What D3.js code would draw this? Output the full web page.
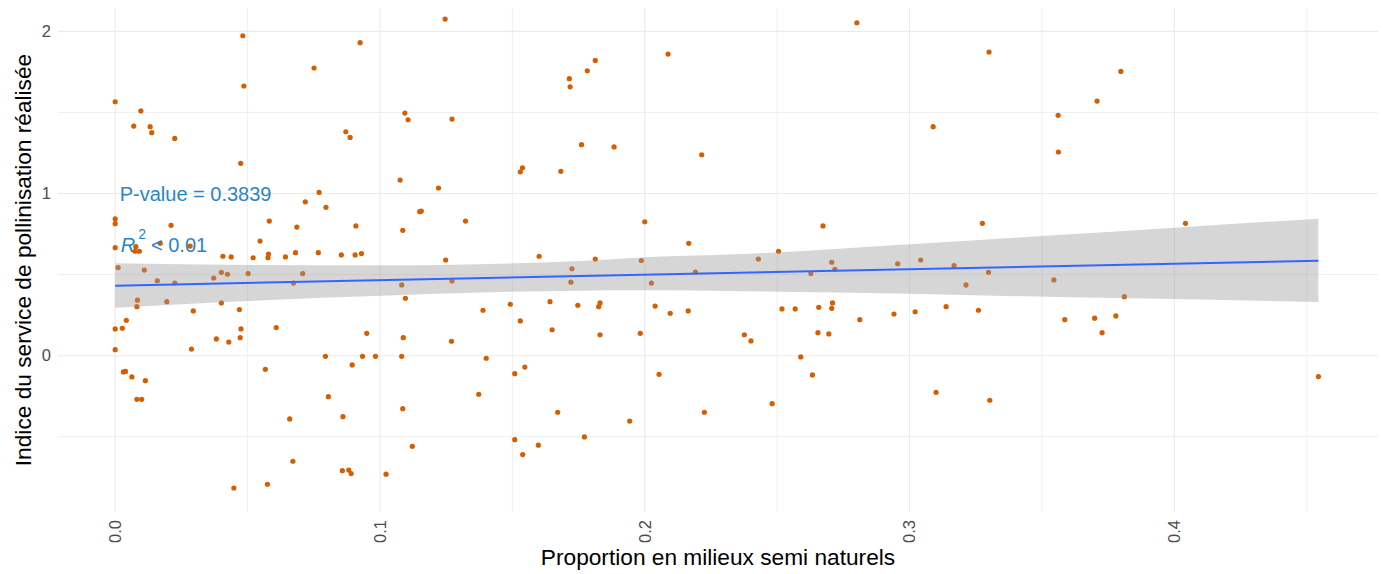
<!DOCTYPE html>
<html lang="fr">
<head>
<meta charset="utf-8">
<script src="https://cdn.jsdelivr.net/npm/d3@7"></script>
<style>
  html, body { margin: 0; padding: 0; background: #ffffff; }
  svg { display: block; font-family: "Liberation Sans", Arial, sans-serif; }
</style>
</head>
<body>
<svg id="chart" width="1383" height="574"></svg>
<script>
// Proportion of semi-natural habitat (x) and realised pollination service index (y), one entry per site
const propSemiNaturel = [
  0.0482, 0.0486, 0.0000, 0.0097, 0.0070, 0.0132, 0.0138, 0.0225, 0.0474, 0.0000,
  0.0000, 0.0211, 0.0000, 0.0078, 0.0170, 0.0283, 0.0075, 0.0091, 0.0407, 0.0438,
  0.0011, 0.0110, 0.0159, 0.0225, 0.0372, 0.0401, 0.0424, 0.0502, 0.0084, 0.0082,
  0.0195, 0.0401, 0.0295, 0.0469, 0.0042, 0.0000, 0.0027, 0.0475, 0.0382, 0.0429,
  0.0472, 0.0000, 0.0288, 0.0031, 0.0039, 0.0063, 0.0114, 0.0082, 0.0100, 0.0448,
  0.0925, 0.0751, 0.0871, 0.0887, 0.1094, 0.1106, 0.1076, 0.1086, 0.0770, 0.0718,
  0.0796, 0.0582, 0.0547, 0.0686, 0.0909, 0.0521, 0.0579, 0.0577, 0.0643, 0.0681,
  0.0767, 0.0854, 0.0906, 0.0930, 0.0708, 0.0673, 0.1082, 0.1096, 0.0608, 0.0950,
  0.1088, 0.0794, 0.0934, 0.0983, 0.1082, 0.0567, 0.0895, 0.0805, 0.0860, 0.0659,
  0.1086, 0.1122, 0.0671, 0.0575, 0.0858, 0.0882, 0.0891, 0.1023, 0.1246, 0.1715,
  0.1718, 0.1272, 0.1761, 0.1538, 0.1530, 0.1683, 0.1221, 0.1150, 0.1156, 0.1323,
  0.1248, 0.1601, 0.1725, 0.1272, 0.1721, 0.1389, 0.1492, 0.1530, 0.1642, 0.1650,
  0.1747, 0.1270, 0.1401, 0.1547, 0.1509, 0.1373, 0.1671, 0.1509, 0.1539, 0.1598,
  0.1813, 0.1783, 0.2088, 0.1884, 0.2215, 0.2000, 0.2166, 0.1813, 0.1987, 0.2191,
  0.2025, 0.1831, 0.1826, 0.2039, 0.2096, 0.2164, 0.1831, 0.1983, 0.2376, 0.2054,
  0.2225, 0.1943, 0.1772, 0.2801, 0.3300, 0.3561, 0.3562, 0.3089, 0.2673, 0.3275,
  0.2505, 0.2429, 0.3042, 0.2706, 0.2718, 0.2627, 0.2955, 0.3168, 0.3298, 0.3213,
  0.3545, 0.2401, 0.2518, 0.2568, 0.2657, 0.2709, 0.2706, 0.2654, 0.2695, 0.2812,
  0.2941, 0.3021, 0.3138, 0.3260, 0.2589, 0.2633, 0.2481, 0.3100, 0.3303, 0.3798,
  0.3708, 0.4042, 0.3811, 0.3586, 0.3699, 0.3779, 0.3727, 0.4544
];
const indicePollinisation = [
  1.973, 1.663, 1.566, 1.509, 1.416, 1.412, 1.375, 1.340, 1.186, 0.843,
  0.814, 0.804, 0.666, 0.672, 0.693, 0.676, 0.644, 0.644, 0.613, 0.609,
  0.543, 0.528, 0.462, 0.448, 0.479, 0.514, 0.502, 0.506, 0.342, 0.302,
  0.333, 0.325, 0.276, 0.284, 0.218, 0.165, 0.169, 0.165, 0.103, 0.084,
  0.111, 0.037, 0.041, -0.100, -0.097, -0.131, -0.154, -0.269, -0.269, -0.816,
  1.930, 1.774, 1.381, 1.346, 1.496, 1.455, 1.083, 0.773, 1.007, 0.949,
  0.915, 0.830, 0.707, 0.793, 0.800, 0.604, 0.627, 0.604, 0.609, 0.635,
  0.635, 0.621, 0.621, 0.629, 0.506, 0.448, 0.436, 0.354, 0.173, 0.138,
  0.111, -0.004, -0.004, -0.004, -0.004, -0.084, -0.057, -0.253, -0.376, -0.390,
  -0.327, -0.559, -0.651, -0.793, -0.709, -0.705, -0.727, -0.731, 2.076, 1.708,
  1.658, 1.459, 1.301, 1.159, 1.134, 1.137, 1.034, 0.888, 0.892, 0.830,
  0.590, 0.613, 0.536, 0.461, 0.453, 0.280, 0.317, 0.214, 0.333, 0.160,
  0.311, 0.089, -0.016, -0.070, -0.111, -0.238, -0.349, -0.518, -0.610, -0.552,
  1.821, 1.757, 1.860, 1.287, 1.239, 0.826, 0.693, 0.596, 0.587, 0.516,
  0.448, 0.325, 0.302, 0.306, 0.261, 0.276, 0.129, 0.138, 0.129, -0.115,
  -0.349, -0.403, -0.501, 2.053, 1.872, 1.482, 1.256, 1.412, 0.800, 0.816,
  0.644, 0.596, 0.590, 0.576, 0.533, 0.506, 0.567, 0.555, 0.514, 0.436,
  0.467, 0.091, 0.288, 0.288, 0.298, 0.325, 0.292, 0.142, 0.134, 0.222,
  0.257, 0.271, 0.302, 0.280, -0.008, -0.119, -0.296, -0.226, -0.275, 1.753,
  1.570, 0.816, 0.364, 0.222, 0.231, 0.245, 0.142, -0.129
];

// Linear fit (method = "lm") and its 95 % confidence band
const fitX = [0, 0.4544];
const fitY = [0.4316, 0.5857];
const bandX = [0, 0.05, 0.1, 0.175, 0.2, 0.2376, 0.3, 0.356, 0.4, 0.4544];
const bandUpper = [0.570, 0.559, 0.557, 0.584, 0.607, 0.627, 0.687, 0.744, 0.789, 0.845];
const bandLower = [0.296, 0.337, 0.370, 0.401, 0.403, 0.397, 0.382, 0.362, 0.350, 0.331];

// Axis breaks and labels
const xBreaks = [0, 0.1, 0.2, 0.3, 0.4];
const xMinorBreaks = [0.05, 0.15, 0.25, 0.35, 0.45];
const xTickLabels = ["0.0", "0.1", "0.2", "0.3", "0.4"];
const yBreaks = [0, 1, 2];
const yMinorBreaks = [-0.5, 0.5, 1.5];
const yTickLabels = ["0", "1", "2"];

const xTitle = "Proportion en milieux semi naturels";
const yTitle = "Indice du service de pollinisation réalisée";
const pValueText = "P-value = 0.3839";

const svg = d3.select("#chart");
const panel = { left: 58, right: 1378, top: 8, bottom: 512 };

const x = d3.scaleLinear().domain([-0.0216, 0.4769]).range([panel.left, panel.right]);
const y = d3.scaleLinear().domain([-0.964, 2.144]).range([panel.bottom, panel.top]);

const grid = svg.append("g");
grid.selectAll("line.xminor").data(xMinorBreaks).join("line")
  .attr("x1", d => x(d)).attr("x2", d => x(d))
  .attr("y1", panel.top).attr("y2", panel.bottom)
  .attr("stroke", "#efefef").attr("stroke-width", 1);
grid.selectAll("line.yminor").data(yMinorBreaks).join("line")
  .attr("x1", panel.left).attr("x2", panel.right)
  .attr("y1", d => y(d)).attr("y2", d => y(d))
  .attr("stroke", "#efefef").attr("stroke-width", 1);
grid.selectAll("line.xmajor").data(xBreaks).join("line")
  .attr("x1", d => x(d)).attr("x2", d => x(d))
  .attr("y1", panel.top).attr("y2", panel.bottom)
  .attr("stroke", "#ebebeb").attr("stroke-width", 1.1);
grid.selectAll("line.ymajor").data(yBreaks).join("line")
  .attr("x1", panel.left).attr("x2", panel.right)
  .attr("y1", d => y(d)).attr("y2", d => y(d))
  .attr("stroke", "#ebebeb").attr("stroke-width", 1.1);

// Points
const points = propSemiNaturel.map((v, i) => ({ x: v, y: indicePollinisation[i] }));
svg.append("g").selectAll("circle").data(points).join("circle")
  .attr("cx", d => x(d.x)).attr("cy", d => y(d.y))
  .attr("r", 2.6).attr("fill", "#D55E00");

// Confidence band drawn over the points, then the fitted line
const band = bandX.map((v, i) => ({ x: v, lo: bandLower[i], hi: bandUpper[i] }));
svg.append("path").datum(band)
  .attr("d", d3.area().x(d => x(d.x)).y0(d => y(d.lo)).y1(d => y(d.hi)).curve(d3.curveMonotoneX))
  .attr("fill", "#999999").attr("fill-opacity", 0.4);
const fit = fitX.map((v, i) => ({ x: v, y: fitY[i] }));
svg.append("path").datum(fit)
  .attr("d", d3.line().x(d => x(d.x)).y(d => y(d.y)))
  .attr("fill", "none").attr("stroke", "#3366FF").attr("stroke-width", 2);

// Annotations
const annColor = "#2A85C6";
svg.append("text").attr("x", x(0.0017)).attr("y", 201)
  .attr("font-size", 20).attr("fill", annColor).text(pValueText);
const r2 = svg.append("text").attr("x", x(0.0021)).attr("y", 251.5)
  .attr("font-size", 20).attr("fill", annColor);
r2.append("tspan").attr("font-style", "italic").text("R");
r2.append("tspan").attr("font-size", 14).attr("dx", 3).attr("dy", -13).text("2");
r2.append("tspan").attr("dx", 5).attr("dy", 13).text("< 0.01");

// Axis tick labels
svg.append("g").selectAll("text").data(xBreaks).join("text")
  .attr("transform", d => `translate(${x(d)},520) rotate(-90)`)
  .attr("text-anchor", "end").attr("dy", "0.35em")
  .attr("font-size", 16.5).attr("fill", "#4D4D4D")
  .text((d, i) => xTickLabels[i]);
svg.append("g").selectAll("text").data(yBreaks).join("text")
  .attr("x", 51).attr("y", d => y(d)).attr("dy", "0.35em")
  .attr("text-anchor", "end")
  .attr("font-size", 16.5).attr("fill", "#4D4D4D")
  .text((d, i) => yTickLabels[i]);

// Axis titles
svg.append("text").attr("x", (panel.left + panel.right) / 2).attr("y", 565)
  .attr("text-anchor", "middle").attr("font-size", 22.7).attr("fill", "#000")
  .text(xTitle);
svg.append("text")
  .attr("transform", `translate(31,${(panel.top + panel.bottom) / 2}) rotate(-90)`)
  .attr("text-anchor", "middle").attr("font-size", 22.7).attr("fill", "#000")
  .text(yTitle);
</script>
</body>
</html>
